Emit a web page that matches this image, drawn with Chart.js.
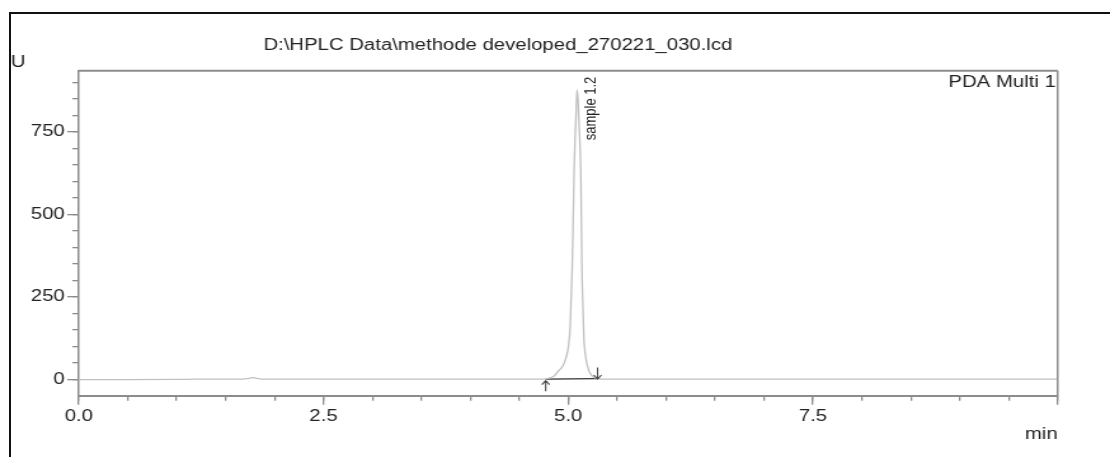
<!DOCTYPE html>
<html>
<head>
<meta charset="utf-8">
<title>HPLC chromatogram</title>
<script src="https://cdn.jsdelivr.net/npm/chart.js@4.4.1/dist/chart.umd.min.js"></script>
<style>
  html, body { margin: 0; padding: 0; background: #fff; overflow: hidden; }
  #frame {
    position: absolute; left: 9px; top: 12px; width: 1120px; height: 460px;
    border-left: 2px solid #111; border-top: 2px solid #111;
  }
  /* the source picture is stretched sideways, so the canvas is too */
  #wrap {
    position: absolute; left: 0; top: 0; width: 874px; height: 457px;
    transform: scaleX(1.27); transform-origin: 0 0;
  }
</style>
</head>
<body>
<div id="frame"></div>
<div id="wrap"><canvas id="chart" width="874" height="457"></canvas></div>
<script>
/*global document, Chart*/
(function (document, Chart) {
  "use strict";

  // retention time (min) and detector signal
  var times = [0, 0.5, 1.0, 1.2, 1.5, 1.7, 1.75, 1.78, 1.81, 1.85, 2.0, 3.0, 4.0, 4.5,
    4.70, 4.77, 4.80, 4.85, 4.90, 4.94, 4.97, 5.00, 5.02, 5.04, 5.05, 5.06, 5.07,
    5.08, 5.09, 5.10, 5.11, 5.12, 5.13, 5.14, 5.15, 5.16, 5.18, 5.21, 5.25, 5.30,
    5.40, 6.0, 7.0, 8.0, 9.0, 10.0];
  var signal = [-1, -1, -0.5, 0, 0, 1, 3, 5, 3, 1, 0, 0, 0, 0,
    0, 1, 3, 8, 25, 38, 58, 95, 160, 330, 470, 630, 730,
    800, 877, 850, 780, 710, 600, 340, 220, 127, 65, 27, 8, 2,
    0, 0, 0, 0, 0, 0];

  // integration baseline of the peak
  var baseTimes = [4.77, 5.30];
  var baseLevels = [0, 2];
  var peakTime = 5.09;
  var peakName = "sample 1.2";

  var xRange = [0, 10];
  var yRange = [-50, 935];
  var xMajorTicks = [0, 2.5, 5, 7.5, 10];
  var xTickLabels = ["0.0", "2.5", "5.0", "7.5", ""];
  var xMinorTicks = [0, 0.5, 1, 1.5, 2, 2.5, 3, 3.5, 4, 4.5, 5, 5.5, 6, 6.5, 7,
    7.5, 8, 8.5, 9, 9.5, 10];
  var yMajorTicks = [0, 250, 500, 750];
  var yTickLabels = ["0", "250", "500", "750"];
  var yMinorTicks = [0, 50, 100, 150, 200, 250, 300, 350, 400, 450, 500, 550,
    600, 650, 700, 750, 800, 850, 900];

  var FONT = 'Arial, "Liberation Sans", sans-serif';
  var AXIS = "#8c8c8c";
  var INK = "#222";

  function points(xs, ys) {
    var i, out = [];
    for (i = 0; i < xs.length; i += 1) {
      out.push({x: xs[i], y: ys[i]});
    }
    return out;
  }

  function fixedTicks(list) {
    return function (axis) {
      axis.ticks = list.map(function (v) { return {value: v}; });
    };
  }

  function labelFor(values, labels) {
    return function (value) {
      var i = values.indexOf(value);
      return i < 0 ? "" : labels[i];
    };
  }

  var annotate = {
    id: "annotate",
    afterDraw: function (chart) {
      var ctx = chart.ctx,
        area = chart.chartArea,
        xs = chart.scales.x,
        ys = chart.scales.y,
        x0 = xs.getPixelForValue(baseTimes[0]),
        x1 = xs.getPixelForValue(baseTimes[1]),
        y0 = ys.getPixelForValue(baseLevels[0]),
        y1 = ys.getPixelForValue(baseLevels[1]);

      ctx.save();
      // plot frame, top and right
      ctx.strokeStyle = AXIS;
      ctx.lineWidth = 2;
      ctx.beginPath();
      ctx.moveTo(area.left, area.top);
      ctx.lineTo(area.right, area.top);
      ctx.stroke();
      ctx.lineWidth = 1.5;
      ctx.beginPath();
      ctx.moveTo(area.right, area.top);
      ctx.lineTo(area.right, area.bottom);
      ctx.stroke();

      // arrows marking the start and end of integration
      ctx.strokeStyle = "#444";
      ctx.lineWidth = 1.1;
      ctx.beginPath();
      ctx.moveTo(x0, y0 + 1.5);
      ctx.lineTo(x0, y0 + 12);
      ctx.moveTo(x0 - 3, y0 + 5.5);
      ctx.lineTo(x0, y0 + 1.5);
      ctx.lineTo(x0 + 3, y0 + 5.5);
      ctx.moveTo(x1, y1 - 11);
      ctx.lineTo(x1, y1 + 0.5);
      ctx.moveTo(x1 - 3, y1 - 3.5);
      ctx.lineTo(x1, y1 + 0.5);
      ctx.lineTo(x1 + 3, y1 - 3.5);
      ctx.stroke();

      ctx.fillStyle = INK;
      ctx.font = "16px " + FONT;
      ctx.textBaseline = "alphabetic";
      ctx.textAlign = "center";
      ctx.fillText("D:\\HPLC Data\\methode developed_270221_030.lcd", 392, 50);
      ctx.textAlign = "left";
      ctx.fillText("U", 8.5, 67);
      ctx.textAlign = "right";
      ctx.fillText("PDA Multi 1", area.right - 1.5, 87);

      // peak name, rotated
      ctx.font = "13px " + FONT;
      ctx.translate(xs.getPixelForValue(peakTime) + 11, area.top + 6);
      ctx.rotate(-Math.PI / 2);
      ctx.textAlign = "right";
      ctx.textBaseline = "middle";
      ctx.fillText(peakName, 0, 0);
      ctx.restore();
    }
  };

  var tickFont = {family: FONT, size: 16};

  new Chart(document.getElementById("chart"), {
    type: "line",
    data: {
      datasets: [
        {
          label: "PDA Multi 1",
          data: points(times, signal),
          borderColor: "#c0c0c0",
          borderWidth: 1.3,
          pointRadius: 0,
          cubicInterpolationMode: "monotone",
          xAxisID: "x",
          yAxisID: "y"
        },
        {
          label: "baseline",
          data: points(baseTimes, baseLevels),
          borderColor: "#333",
          borderWidth: 1.3,
          pointRadius: 0,
          xAxisID: "x",
          yAxisID: "y"
        }
      ]
    },
    options: {
      responsive: false,
      animation: false,
      devicePixelRatio: 1,
      layout: {padding: {left: 0, right: 41.2, top: 70.7, bottom: 0}},
      plugins: {legend: {display: false}, tooltip: {enabled: false}},
      scales: {
        xMinor: {
          type: "linear", position: "bottom", weight: 0,
          min: xRange[0], max: xRange[1],
          afterBuildTicks: fixedTicks(xMinorTicks),
          afterFit: function (axis) { axis.height = 0; },
          ticks: {display: false},
          grid: {drawOnChartArea: false, tickLength: 5, color: AXIS, lineWidth: 1.3},
          border: {display: false}
        },
        x: {
          type: "linear", position: "bottom", weight: 1,
          min: xRange[0], max: xRange[1],
          afterBuildTicks: fixedTicks(xMajorTicks),
          afterFit: function (axis) { axis.height = 61.3; },
          ticks: {
            font: tickFont, color: INK, padding: 2, maxRotation: 0,
            autoSkip: false,
            callback: labelFor(xMajorTicks, xTickLabels)
          },
          grid: {drawOnChartArea: false, tickLength: 9, color: AXIS, lineWidth: 1.3},
          border: {display: true, color: AXIS, width: 2},
          title: {
            display: true, text: "min", align: "end", color: INK,
            font: {family: FONT, size: 16}, padding: {top: 0, bottom: 13}
          }
        },
        yMinor: {
          type: "linear", position: "left", weight: 0,
          min: yRange[0], max: yRange[1],
          afterBuildTicks: fixedTicks(yMinorTicks),
          afterFit: function (axis) { axis.width = 0; },
          ticks: {display: false},
          grid: {drawOnChartArea: false, tickLength: 5, color: AXIS, lineWidth: 1.3},
          border: {display: false}
        },
        y: {
          type: "linear", position: "left", weight: 1,
          min: yRange[0], max: yRange[1],
          afterBuildTicks: fixedTicks(yMajorTicks),
          afterFit: function (axis) { axis.width = 62; },
          ticks: {
            font: tickFont, color: INK, padding: 2, autoSkip: false,
            callback: labelFor(yMajorTicks, yTickLabels)
          },
          grid: {drawOnChartArea: false, tickLength: 9, color: AXIS, lineWidth: 1.3},
          border: {display: true, color: AXIS, width: 1.5}
        }
      }
    },
    plugins: [annotate]
  });
}(document, Chart));
</script>
</body>
</html>
